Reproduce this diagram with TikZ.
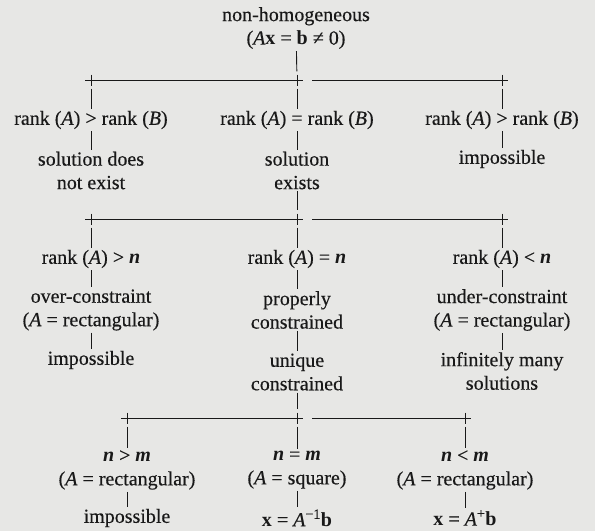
\documentclass[tikz,border=0pt]{standalone}
\usepackage{fontspec}
\setmainfont{Liberation Serif}[UprightFeatures={FakeBold=0.35},ItalicFeatures={FakeBold=0.35}]
\definecolor{bg}{RGB}{231,231,229}
\definecolor{ink}{RGB}{25,25,25}
\newcommand{\Ai}{\textit{A}}
\newcommand{\Bi}{\textit{B}}
\newcommand{\nb}{\textbf{\textit{n}}}
\newcommand{\mb}{\textbf{\textit{m}}}
\begin{document}
\begin{tikzpicture}[x=1pt,y=-1pt,
  txt/.style={align=center, inner xsep=1pt, inner ysep=2pt, text=ink,
    font=\fontsize{20}{23.5}\selectfont},
  plus/.style={inner sep=0pt, minimum width=12pt, minimum height=11pt,
    path picture={\draw[ink,line width=0.9pt]
      (path picture bounding box.north) -- (path picture bounding box.south)
      (path picture bounding box.west) -- (path picture bounding box.east);}},
  conn/.style={draw=ink, line width=0.9pt},
  vup/.style={conn, shorten >=3pt},
  vdn/.style={conn, shorten <=3pt},
]
\fill[bg] (0,0) rectangle (595,531);
\useasboundingbox (0,0) rectangle (595,531);

% top
\node[txt] (T) at (296,28) {non-homogeneous\\(\Ai\textbf{x} = \textbf{b} ≠ 0)};
% bar 1
\node[plus] (p1L) at (91,80) {};
\node[plus] (p1C) at (297,80) {};
\node[plus] (p1R) at (502,80) {};
% rank row
\node[txt] (A1) at (91,120) {rank (\Ai) > rank (\Bi)};
\node[txt] (A2) at (297,120) {rank (\Ai) = rank (\Bi)};
\node[txt] (A3) at (502,120) {rank (\Ai) > rank (\Bi)};
% solutions
\node[txt] (B1) at (91,170.5) {solution does\\not exist};
\node[txt] (B2) at (297,170.5) {solution\\exists};
\node[txt] (B3) at (502,159) {impossible};
% bar 2
\node[plus] (p2L) at (91,219) {};
\node[plus] (p2C) at (297,219) {};
\node[plus] (p2R) at (502,219) {};
% rank vs n
\node[txt] (C1) at (91,259) {rank (\Ai) > \nb};
\node[txt] (C2) at (297,259) {rank (\Ai) = \nb};
\node[txt] (C3) at (502,259) {rank (\Ai) < \nb};
% constraint
\node[txt] (D1) at (91,310) {over-constraint\\(\Ai\ = rectangular)};
\node[txt] (D2) at (297,310) {properly\\constrained};
\node[txt] (D3) at (502,310) {under-constraint\\(\Ai\ = rectangular)};
% outcomes
\node[txt] (E1) at (91,360) {impossible};
\node[txt] (E2) at (297,372) {unique\\constrained};
\node[txt] (E3) at (502,371) {infinitely many\\solutions};
% bar 3
\node[plus] (p3L) at (127,418) {};
\node[plus] (p3C) at (297,418) {};
\node[plus] (p3R) at (465,418) {};
% n vs m
\node[txt] (F1) at (127,470) {\nb\ > \mb\\(\Ai\ = rectangular)};
\node[txt] (F2) at (297,470) {\nb\ = \mb\\(\Ai\ = square)};
\node[txt] (F3) at (465,470) {\nb\ < \mb\\(\Ai\ = rectangular)};
% solutions
\node[txt] (G1) at (127,518) {impossible};
\node[txt] (G2) at (297,518) {\textbf{x} = \Ai\textsuperscript{−1}\textbf{b}};
\node[txt] (G3) at (465,518) {\textbf{x} = \Ai\textsuperscript{+}\textbf{b}};

% connectors
\draw[vup] (T) -- (p1C);
\draw[conn] (p1L) -- (p1C);
\draw[conn] ([xshift=9pt]p1C.east) -- (p1R);
\draw[vdn] (p1L) -- (A1);
\draw[vdn] (p1C) -- (A2);
\draw[vdn] (p1R) -- (A3);
\draw[conn] (A1) -- (B1);
\draw[conn] (A2) -- (B2);
\draw[conn] (A3) -- (B3);

\draw[vup] (B2) -- (p2C);
\draw[conn] (p2L) -- (p2C);
\draw[conn] ([xshift=9pt]p2C.east) -- (p2R);
\draw[vdn] (p2L) -- (C1);
\draw[vdn] (p2C) -- (C2);
\draw[vdn] (p2R) -- (C3);
\draw[conn] (C1) -- (D1);
\draw[conn] (C2) -- (D2);
\draw[conn] (C3) -- (D3);
\draw[conn] (D1) -- (E1);
\draw[conn] (D2) -- (E2);
\draw[conn] (D3) -- (E3);

\draw[vup] (E2) -- (p3C);
\draw[conn] (p3L) -- (p3C);
\draw[conn] ([xshift=9pt]p3C.east) -- (p3R);
\draw[vdn] (p3L) -- (F1);
\draw[vdn] (p3C) -- (F2);
\draw[vdn] (p3R) -- (F3);
\draw[conn] (F1) -- (G1);
\draw[conn] (F2) -- (G2);
\draw[conn] (F3) -- (G3);
\end{tikzpicture}
\end{document}
